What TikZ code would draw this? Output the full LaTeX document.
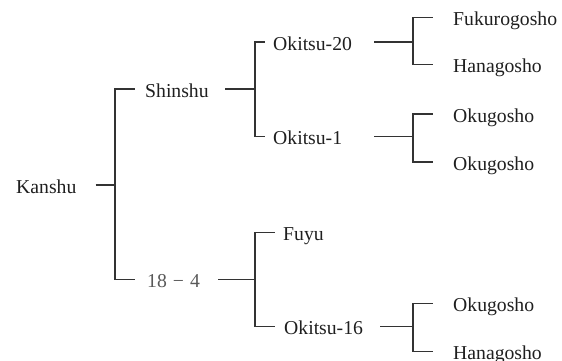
\documentclass[tikz,border=0pt]{standalone}
\usepackage{fontspec}
\setmainfont{Liberation Serif}
\begin{document}
\begin{tikzpicture}[x=1pt,y=-1pt,
  txt/.style={inner sep=0pt, text height=16pt, text depth=0pt, anchor=west,
    font=\fontsize{19.7}{22}\selectfont, text=black!88},
  conn/.style={draw=black!80, line width=1.1pt}]
\useasboundingbox (0,0) rectangle (562,360);
% nodes
\node[txt] (kanshu) at (16,185) {Kanshu};
\node[txt] (shinshu) at (145,89) {Shinshu};
\node[txt, text=black!65] (n184) at (147,279.5) {18\hspace{6pt}−\hspace{6pt}4};
\node[txt] (ok20) at (273,42) {Okitsu-20};
\node[txt] (ok1) at (273,136.5) {Okitsu-1};
\node[txt] (fuyu) at (283,232.3) {Fuyu};
\node[txt] (ok16) at (284,326.8) {Okitsu-16};
\node[txt] (fuku) at (453,17.5) {Fukurogosho};
\node[txt] (hana1) at (453,64.5) {Hanagosho};
\node[txt] (oku1) at (453,114) {Okugosho};
\node[txt] (oku2) at (453,162) {Okugosho};
\node[txt] (oku3) at (453,303.3) {Okugosho};
\node[txt] (hana2) at (453,351.5) {Hanagosho};
% junctions
\coordinate (j1) at (115,185);
\coordinate (j2) at (255,89);
\coordinate (j3) at (255,279.5);
\coordinate (j4) at (413,42);
\coordinate (j5) at (413,136.5);
\coordinate (j6) at (413,326.8);
% connectors
\draw[conn] ([xshift=19pt]kanshu.east) -- (j1);
\draw[conn] (j1) |- ([xshift=-10pt]shinshu.west);
\draw[conn] (j1) |- ([xshift=-12pt]n184.west);
\draw[conn] ([xshift=16.5pt]shinshu.east) -- (j2);
\draw[conn] (j2) |- ([xshift=-8pt]ok20.west);
\draw[conn] (j2) |- ([xshift=-8pt]ok1.west);
\draw[conn] ([xshift=18pt]n184.east) -- (j3);
\draw[conn] (j3) |- ([xshift=-8pt]fuyu.west);
\draw[conn] (j3) |- ([xshift=-9pt]ok16.west);
\draw[conn] ([xshift=22pt]ok20.east) -- (j4);
\draw[conn] (j4) |- ([xshift=-20pt]fuku.west);
\draw[conn] (j4) |- ([xshift=-20pt]hana1.west);
\draw[conn] ([xshift=32pt]ok1.east) -- (j5);
\draw[conn] (j5) |- ([xshift=-20pt]oku1.west);
\draw[conn] (j5) |- ([xshift=-20pt]oku2.west);
\draw[conn] ([xshift=17pt]ok16.east) -- (j6);
\draw[conn] (j6) |- ([xshift=-20pt]oku3.west);
\draw[conn] (j6) |- ([xshift=-20pt]hana2.west);
\end{tikzpicture}
\end{document}
